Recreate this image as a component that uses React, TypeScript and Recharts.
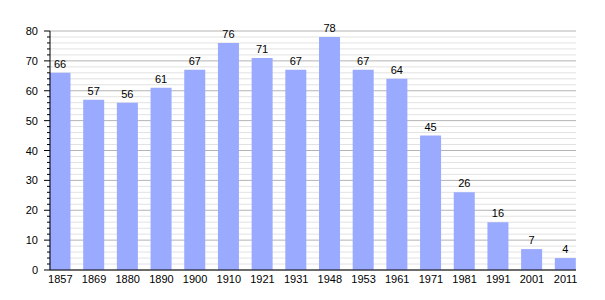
import { BarChart, Bar, XAxis, YAxis, CartesianGrid, LabelList } from "recharts";

document.body.style.margin = "0";

const years = ["1857", "1869", "1880", "1890", "1900", "1910", "1921", "1931", "1948", "1953", "1961", "1971", "1981", "1991", "2001", "2011"];
const population = [66, 57, 56, 61, 67, 76, 71, 67, 78, 67, 64, 45, 26, 16, 7, 4];

// every 2 units there is a light line, every 10 a darker one
const yTicks = Array.from({ length: 41 }, (_, i) => i * 2);

const data = years.map((year, i) => ({ year, value: population[i] }));

const YTick = (props: any) => {
  const { x, y, payload } = props;
  const major = payload.value % 10 === 0;
  return (
    <g>
      <line x1={x + 8} x2={major ? x + 2 : x + 5} y1={y} y2={y} stroke="#000" />
      {major && (
        <text x={x - 4} y={y} dy={4} textAnchor="end" fontSize={11} fill="#000">
          {payload.value}
        </text>
      )}
    </g>
  );
};

const GridLine = (props: any) => {
  const { x1, x2, y1, y2, index } = props;
  const major = index % 5 === 0;
  return (
    <line
      x1={x1}
      x2={x2}
      y1={y1}
      y2={y2}
      stroke={major ? "#b4b4b4" : "#e2e2e2"}
      strokeWidth={1}
    />
  );
};

const App = () => {
  return (
    <div style={{ fontFamily: "'Liberation Sans', Arial, sans-serif" }}>
      <BarChart
        width={605}
        height={300}
        data={data}
        margin={{ top: 31, right: 29, left: 0, bottom: 8 }}
        barSize={21}
      >
        <CartesianGrid vertical={false} horizontal={(p: any) => <GridLine {...p} />} />
        <XAxis
          dataKey="year"
          tickLine={false}
          tickSize={3}
          axisLine={{ stroke: "#000" }}
          tick={{ fontSize: 11, fill: "#000" }}
          height={22}
          interval={0}
          padding={{ left: -6.5, right: -6.5 }}
        />
        <YAxis
          domain={[0, 80]}
          ticks={yTicks}
          interval={0}
          tickLine={false}
          axisLine={{ stroke: "#000" }}
          tick={<YTick />}
          width={50}
        />
        <Bar dataKey="value" fill="#99aaff" isAnimationActive={false}>
          <LabelList dataKey="value" position="top" offset={5} fontSize={11} fill="#000" />
        </Bar>
      </BarChart>
    </div>
  );
};

export default App;
